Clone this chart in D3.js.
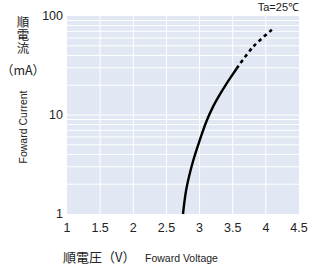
<!DOCTYPE html>
<html><head><meta charset="utf-8">
<script src="https://cdn.jsdelivr.net/npm/d3@7"></script>
<style>body{margin:0;background:#fff;} svg{display:block;}</style>
</head><body>
<svg id="c" width="313" height="265"></svg>
<script>
const xTicks = [1, 1.5, 2, 2.5, 3, 3.5, 4, 4.5];
const xTickLabels = ["1", "1.5", "2", "2.5", "3", "3.5", "4", "4.5"];
const yTicks = [1, 10, 100];
const yTickLabels = ["1", "10", "100"];
const yGrid = [2,3,4,5,6,7,8,9,10,20,30,40,50,60,70,80,90];
const solidV = [2.75, 2.8, 2.9, 3.0, 3.1, 3.2, 3.3, 3.4, 3.5, 3.56];
const solidI = [1, 1.78, 3.39, 5.5, 8.5, 12.0, 15.85, 20.4, 25.7, 29.5];
const dashV = [3.56, 3.81, 4.1];
const dashI = [29.5, 49, 73.5];
const yTitle = "順電流";

const svg = d3.select("#c");
const L = 67, R = 299, T = 16, B = 214;
const x = d3.scaleLinear().domain([1, 4.5]).range([L, R]);
const y = d3.scaleLog().domain([1, 100]).range([B, T]);
const sans = "'Liberation Sans', Arial, sans-serif";
const jp = "'Noto Sans CJK JP', sans-serif";
const ink = "#222";

svg.append("rect").attr("x", L).attr("y", T).attr("width", R - L).attr("height", B - T).attr("fill", "#e1e8f3");

svg.append("g").selectAll("line").data(yGrid).join("line")
  .attr("x1", L).attr("x2", R).attr("y1", d => y(d)).attr("y2", d => y(d))
  .attr("stroke", "#fff").attr("stroke-width", 1);
svg.append("g").selectAll("line").data(xTicks.slice(1, -1)).join("line")
  .attr("x1", d => x(d)).attr("x2", d => x(d)).attr("y1", T).attr("y2", B)
  .attr("stroke", "#fff").attr("stroke-width", 1);

const line = d3.line().x(d => x(d[0])).y(d => y(d[1])).curve(d3.curveCatmullRom);
svg.append("path").datum(solidV.map((v, i) => [v, solidI[i]]))
  .attr("d", line).attr("fill", "none").attr("stroke", "#000").attr("stroke-width", 2.4);
svg.append("path").datum(dashV.map((v, i) => [v, dashI[i]]))
  .attr("d", line).attr("fill", "none").attr("stroke", "#000").attr("stroke-width", 2.6)
  .attr("stroke-dasharray", "3.5,3.5");

svg.append("g").selectAll("text").data(xTicks).join("text")
  .attr("x", d => x(d)).attr("y", 232).attr("text-anchor", "middle")
  .attr("font-family", sans).attr("font-size", 12.5).attr("fill", ink)
  .text((d, i) => xTickLabels[i]);
svg.append("g").selectAll("text").data(yTicks).join("text")
  .attr("x", 63).attr("y", d => y(d) + 4).attr("text-anchor", "end")
  .attr("font-family", sans).attr("font-size", 12.5).attr("fill", ink)
  .text((d, i) => yTickLabels[i]);

svg.append("text").attr("x", 299).attr("y", 11).attr("text-anchor", "end")
  .attr("font-family", sans).attr("font-size", 11).attr("fill", ink).text("Ta=25℃");

svg.append("text").attr("x", 23).attr("y", 16)
  .style("writing-mode", "vertical-rl").attr("letter-spacing", 0.5)
  .attr("font-family", jp).attr("font-size", 12.5).attr("fill", ink).text(yTitle);
svg.append("text").attr("x", 23).attr("y", 75).attr("text-anchor", "middle")
  .attr("font-family", jp).attr("font-size", 12.5).attr("fill", ink).text("（mA）");
svg.append("text").attr("transform", "translate(27,127) rotate(-90)").attr("text-anchor", "middle")
  .attr("font-family", sans).attr("font-size", 10.5).attr("fill", ink).text("Foward Current");

svg.append("text").attr("x", 63).attr("y", 262)
  .attr("font-family", jp).attr("font-size", 13).attr("fill", ink).text("順電圧（V）");
svg.append("text").attr("x", 145).attr("y", 262)
  .attr("font-family", sans).attr("font-size", 10.5).attr("fill", ink).text("Foward Voltage");
</script>
</body></html>
